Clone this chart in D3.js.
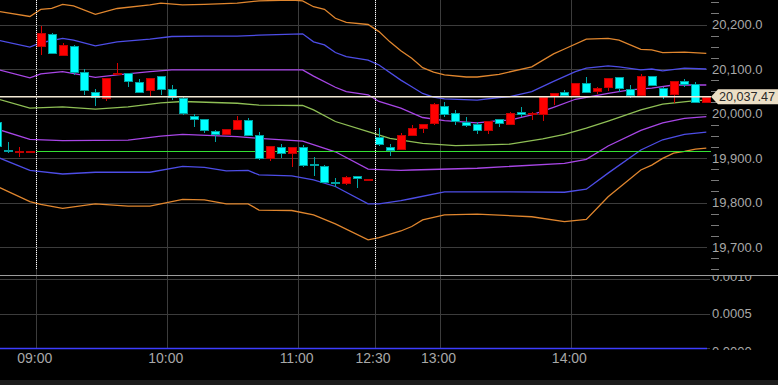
<!DOCTYPE html>
<html>
<head>
<meta charset="utf-8">
<script src="https://cdn.jsdelivr.net/npm/d3@7"></script>
<style>
  body { margin: 0; background: #000; }
  svg { display: block; }
</style>
</head>
<body>
<div id="chart"></div>
<script>
// 5分足 (bar index 0 = 09:00, -4..-1 = previous session)
var firstIndex = -4;
var opens  = [19981.6,19918.0,19913.5,19914.8,
  20147.9,20179.3,20129.9,20152.4,20092.6,20047.6,20033.3,20089.0,20090.3,20070.8,20049.0,20083.6,20054.4,20034.8,19995.1,19987.0,
  19961.3,19952.4,19962.9,19985.4,19951.7,19897.8,19925.4,19909.0,19924.0,19885.4,19882.7,19846.7,19842.2,19859.6,19853.2,
  19946.5,19925.4,19918.7,19949.4,19966.7,19974.8,20017.5,20001.8,19981.6,19975.7,19960.7,19987.0,19975.7,20002.7,19996.6,
  19998.2,20035.5,20049.0,20039.3,20069.2,20048.3,20055.7,20081.3,20055.1,20040.0,20084.3,20056.6,20043.1,20073.0,20067.4,20024.3];
var highs  = [19985.4,19936.0,19924.0,19915.3,
  20197.3,20180.0,20157.8,20153.0,20100.0,20055.1,20080.0,20112.8,20091.0,20077.5,20079.5,20084.0,20063.4,20040.0,19998.2,19987.5,
  19962.0,19966.0,19994.4,19989.9,19959.1,19927.5,19930.8,19924.5,19929.2,19901.6,19883.5,19855.7,19858.5,19860.0,19853.8,
  19968.1,19931.5,19955.5,19974.2,19977.5,20022.9,20026.5,20007.9,19992.8,19981.6,19983.5,19987.5,20004.0,20013.9,20004.0,
  20038.0,20046.0,20052.8,20068.5,20082.7,20058.9,20079.5,20082.0,20063.4,20088.1,20085.0,20060.2,20074.0,20077.5,20070.8,20038.0];
var lows   = [19922.5,19910.6,19902.9,19914.8,
  20131.5,20134.0,20129.9,20087.2,20041.6,20016.9,20028.8,20087.5,20058.9,20046.0,20039.3,20042.2,20030.3,19997.5,19970.3,19955.5,
  19936.6,19952.0,19962.5,19949.5,19896.5,19893.3,19900.7,19880.5,19880.0,19859.6,19844.0,19834.2,19839.3,19833.3,19853.2,
  19927.0,19905.2,19918.0,19949.0,19956.9,19974.5,19991.5,19974.8,19970.3,19953.9,19953.3,19970.3,19975.0,19992.8,19985.4,
  19983.8,20019.1,20039.0,20039.0,20047.0,20043.1,20050.6,20048.3,20034.2,20039.5,20062.0,20032.6,20022.9,20060.2,20024.0,20024.0];
var closes = [19925.4,19912.8,19915.7,19915.3,
  20180.2,20135.3,20153.9,20092.6,20049.0,20033.3,20079.8,20091.0,20070.1,20046.7,20079.1,20052.1,20034.2,19998.2,19985.4,19959.1,
  19951.7,19965.2,19984.7,19950.1,19897.1,19927.0,19909.0,19924.0,19880.5,19883.1,19844.5,19841.6,19858.0,19852.8,19853.8,
  19927.6,19916.4,19951.7,19968.1,19977.1,20020.7,19998.2,19980.9,19973.5,19960.7,19983.1,19976.4,20001.8,19996.6,20000.4,
  20037.8,20045.4,20039.3,20067.9,20047.6,20057.3,20079.1,20054.4,20040.0,20084.9,20062.5,20035.5,20073.7,20064.0,20024.7,20037.47];

// ボリンジャーバンド [bar index, value]
var upper3 = [[-4,20230],[-1,20218],[0,20234],[1,20236],[2,20245],[3,20242],[5,20223],[7,20236],[10,20244],[11,20248],[13,20244],[15,20245],
  [18,20248],[20,20253],[23,20255],[24,20253],[25,20240],[26,20234],[27,20214],[28,20205],[30,20200],[31,20184],[32,20161],[33,20141],
  [34,20124],[35,20103],[36,20093],[37,20087],[39,20082],[40,20082],[42,20088],[45,20105],[47,20134],[48,20145],[50,20167],[52,20169],
  [53,20165],[55,20144],[56,20143],[57,20137],[59,20138],[61,20135]];
var upper2 = [[-4,20165],[-1,20149],[0,20159],[2,20169],[3,20165],[5,20152],[7,20161],[10,20167],[12,20173],[15,20174],[18,20174],
  [20,20176],[24,20179],[25,20161],[26,20154],[27,20137],[28,20128],[30,20120],[31,20109],[33,20075],[34,20060],[35,20045],[36,20037],
  [37,20033],[40,20030],[42,20036],[43,20038],[45,20049],[47,20072],[49,20094],[50,20102],[52,20107],[53,20105],[55,20098],[56,20100],
  [57,20096],[59,20102],[61,20100]];
var upper1 = [[-4,20099],[-1,20080],[0,20089],[2,20094],[5,20081],[7,20087],[10,20094],[12,20098],[20,20098],[24,20098],[25,20084],
  [27,20059],[28,20049],[30,20042],[31,20027],[33,20012],[35,19991],[37,19984],[40,19979],[42,19984],[43,19985],[45,19997],[47,20014],
  [49,20032],[52,20045],[54,20053],[56,20057],[58,20064],[61,20064]];
var middle = [[-4,20033],[-1,20012],[2,20015],[5,20010],[8,20015],[11,20024],[13,20027],[18,20023],[20,20019],[24,20018],[25,20008],
  [27,19982],[30,19959],[32,19944],[35,19933],[38,19928],[40,19929],[43,19931],[46,19943],[48,19953],[50,19967],[52,19983],[55,20008],
  [57,20021],[60,20029],[61,20030]];
var lower1 = [[-4,19965],[-1,19942],[2,19939],[8,19940],[11,19949],[13,19953],[18,19948],[20,19944],[24,19938],[27,19914],[30,19875],
  [33,19872],[34,19873],[40,19877],[48,19888],[50,19897],[52,19927],[55,19962],[57,19979],[59,19989],[61,19993]];
var lower2 = [[-4,19902],[-1,19872],[2,19864],[5,19868],[10,19868],[13,19881],[15,19879],[17,19871],[19,19872],[20,19862],[23,19860],
  [25,19851],[27,19836],[30,19797],[31,19797],[33,19804],[34,19809],[37,19824],[43,19824],[48,19823],[50,19830],[52,19866],[55,19918],
  [57,19941],[59,19953],[61,19958]];
var lower3 = [[-4,19836],[-1,19802],[0,19796],[2,19787],[5,19797],[8,19792],[10,19792],[13,19807],[15,19806],[17,19797],[19,19797],
  [20,19783],[23,19782],[25,19772],[27,19752],[30,19716],[31,19721],[33,19736],[34,19746],[35,19761],[37,19772],[40,19774],[45,19768],
  [48,19757],[50,19762],[52,19813],[55,19873],[56,19884],[57,19899],[58,19911],[59,19915],[60,19920],[61,19922]];

var timeLabels = ['09:00', '10:00', '11:00', '12:30', '13:00', '14:00'];
var timeIndex  = [0, 12, 24, 31, 37, 49];
var sessionStarts = [0, 31];
var priceTicks = [19700, 19800, 19900, 20000, 20100, 20200];
var subTicks = [0, 0.0005, 0.0010];
var prevClose = 19915;
var lastPrice = 20037.47;

var W = 778, H = 385;
var plotRight = 707;

var svg = d3.select('#chart').append('svg')
  .attr('width', W)
  .attr('height', H)
  .style('background-color', '#000')
  .style('font-family', '"Liberation Sans", Arial, sans-serif');

var x = d3.scaleLinear().domain([0, 61]).range([40.8, 706.3]);
var y = d3.scaleLinear().domain([19700, 20200]).range([247, 24.5]);
var ySub = d3.scaleLinear().domain([0, 0.001]).range([348.3, 279.3]);
var ySubLabel = d3.scaleLinear().domain([0, 0.001]).range([351.5, 276]);

var defs = svg.append('defs');
defs.append('clipPath').attr('id', 'clipTop')
  .append('rect').attr('x', 0).attr('y', 0).attr('width', 711).attr('height', 275);
defs.append('clipPath').attr('id', 'clipSubLabels')
  .append('rect').attr('x', 0).attr('y', 276).attr('width', W).attr('height', 74);

function px(v) { return Math.round(v) + 0.5; }
function gridX(i) { return px(x(i) - 4.5); }

// 下段の帯
svg.append('rect').attr('x', 0).attr('y', 380).attr('width', W).attr('height', 5).attr('fill', '#1c1c1c');

// グリッド
var grid = svg.append('g').attr('stroke', '#3c3c3c').attr('stroke-width', 1);
grid.selectAll('.gx').data(timeIndex).enter().append('line')
  .attr('x1', gridX).attr('x2', gridX)
  .attr('y1', 0).attr('y2', 348);
grid.selectAll('.gy').data(priceTicks).enter().append('line')
  .attr('x1', 0).attr('x2', plotRight)
  .attr('y1', function(d) { return px(y(d)); })
  .attr('y2', function(d) { return px(y(d)); });
grid.selectAll('.gs').data(subTicks).enter().append('line')
  .attr('x1', 0).attr('x2', 710)
  .attr('y1', function(d) { return px(ySub(d)); })
  .attr('y2', function(d) { return px(ySub(d)); });

// 右軸 目盛
var minor = d3.range(19650, 20251, 25).filter(function(d) { return d % 100 !== 0; });
svg.append('g').attr('stroke', '#7a7a7a').selectAll('line').data(minor).enter().append('line')
  .attr('x1', 711).attr('x2', 719)
  .attr('y1', function(d) { return px(y(d)); })
  .attr('y2', function(d) { return px(y(d)); });

svg.append('g').selectAll('text').data(priceTicks).enter().append('text')
  .attr('x', 712)
  .attr('y', function(d) { return y(d); })
  .attr('dy', '0.35em')
  .attr('font-size', 13)
  .attr('fill', '#a8a8a8')
  .text(function(d) { return d3.format(',.1f')(d); });

svg.append('g').attr('clip-path', 'url(#clipSubLabels)')
  .selectAll('text').data(subTicks).enter().append('text')
  .attr('x', 712)
  .attr('y', function(d) { return ySubLabel(d); })
  .attr('dy', '0.35em')
  .attr('font-size', 13)
  .attr('fill', '#a8a8a8')
  .text(function(d) { return d3.format('.4f')(d); });

// 時間ラベル
svg.append('g').selectAll('text').data(timeIndex).enter().append('text')
  .attr('x', function(d) { return x(d) - 6; })
  .attr('y', 358)
  .attr('dy', '0.35em')
  .attr('text-anchor', 'middle')
  .attr('font-size', 14)
  .attr('fill', '#a8a8a8')
  .text(function(d, i) { return timeLabels[i]; });

// 上段
var upperPanel = svg.append('g').attr('clip-path', 'url(#clipTop)');

var line = d3.line()
  .x(function(d) { return x(d[0]); })
  .y(function(d) { return y(d[1]); });

var bands = [
  { data: upper3, color: '#e0862e' },
  { data: lower3, color: '#e0862e' },
  { data: upper2, color: '#4d4de6' },
  { data: lower2, color: '#4d4de6' },
  { data: upper1, color: '#a846e6' },
  { data: lower1, color: '#a846e6' },
  { data: middle, color: '#8fbf55' }
];
upperPanel.selectAll('.band').data(bands).enter().append('path')
  .attr('d', function(d) { return line(d.data); })
  .attr('fill', 'none')
  .attr('stroke', function(d) { return d.color; })
  .attr('stroke-width', 1.3);

// 前日終値
upperPanel.append('line')
  .attr('x1', gridX(0)).attr('x2', 711)
  .attr('y1', px(y(prevClose))).attr('y2', px(y(prevClose)))
  .attr('stroke', '#33e033').attr('stroke-width', 1);

// ローソク足
var bars = d3.range(opens.length).map(function(k) {
  return { i: k + firstIndex, o: opens[k], h: highs[k], l: lows[k], c: closes[k] };
});

var candle = upperPanel.selectAll('.candle').data(bars).enter().append('g');

candle.append('line')
  .attr('x1', function(d) { return px(x(d.i)); })
  .attr('x2', function(d) { return px(x(d.i)); })
  .attr('y1', function(d) { return Math.round(y(d.h)); })
  .attr('y2', function(d) { return Math.round(y(d.l)); })
  .attr('stroke', function(d) { return d.c >= d.o ? '#d80000' : '#00a8a8'; })
  .attr('stroke-width', 1);

candle.append('rect')
  .attr('x', function(d) { return Math.round(x(d.i)) - 4 + 0.5; })
  .attr('width', 8)
  .attr('y', function(d) { return Math.round(y(Math.max(d.o, d.c))) + 0.5; })
  .attr('height', function(d) {
    return Math.max(1, Math.round(Math.abs(y(d.o) - y(d.c))) - 1);
  })
  .attr('fill', function(d) { return d.c >= d.o ? '#ff0000' : '#00ffff'; })
  .attr('stroke', function(d) { return d.c >= d.o ? '#c00000' : '#00a0a0'; })
  .attr('stroke-width', 1);

// セッション開始の点線
svg.append('g').selectAll('line').data(sessionStarts).enter().append('line')
  .attr('x1', gridX).attr('x2', gridX)
  .attr('y1', 0).attr('y2', 270)
  .attr('stroke', '#ffffff')
  .attr('stroke-dasharray', '1,1');

// 現在値ライン
var py = y(lastPrice);
svg.append('line')
  .attr('x1', 0).attr('x2', 711)
  .attr('y1', py).attr('y2', py)
  .attr('stroke', '#f3ead6').attr('stroke-width', 1.5);

svg.append('path')
  .attr('d', 'M711,' + py + 'L718,' + (py - 7.5) + 'L778,' + (py - 7.5) + 'L778,' + (py + 7.5) + 'L718,' + (py + 7.5) + 'Z')
  .attr('fill', '#ecdfc6');

svg.append('text')
  .attr('x', 719)
  .attr('y', py)
  .attr('dy', '0.36em')
  .attr('font-size', 12.6)
  .attr('fill', '#2a2a2a')
  .text(d3.format(',.2f')(lastPrice));

// 区切り線
svg.append('line')
  .attr('x1', 0).attr('x2', W)
  .attr('y1', 275.5).attr('y2', 275.5)
  .attr('stroke', '#9c9c9c');

// 下段 0 ライン
svg.append('line')
  .attr('x1', 0).attr('x2', plotRight)
  .attr('y1', px(ySub(0))).attr('y2', px(ySub(0)))
  .attr('stroke', '#3d3dff').attr('stroke-width', 1.5);
</script>
</body>
</html>
